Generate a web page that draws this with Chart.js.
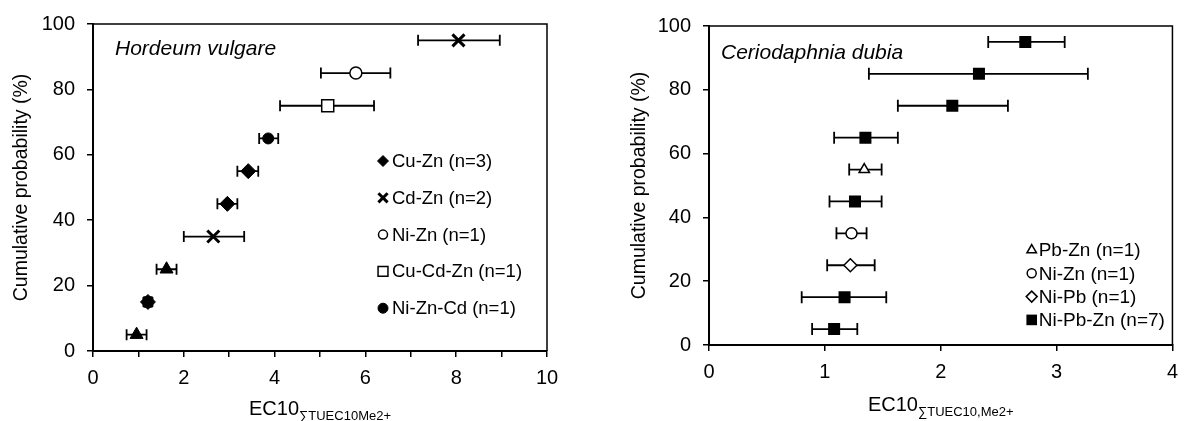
<!DOCTYPE html>
<html>
<head>
<meta charset="utf-8">
<script src="https://cdn.jsdelivr.net/npm/chart.js@4/dist/chart.umd.min.js"></script>
<style>
  html, body { margin: 0; padding: 0; background: #fff; }
  body { position: relative; width: 1187px; height: 421px; overflow: hidden; }
  .box { position: absolute; top: 0; height: 421px; }
  #boxL { left: 0; width: 600px; }
  #boxR { left: 600px; width: 587px; }
</style>
</head>
<body>
<div class="box" id="boxL"><canvas id="hv" width="600" height="421"></canvas></div>
<div class="box" id="boxR"><canvas id="cd" width="587" height="421"></canvas></div>
<script>
// ---- Hordeum vulgare (left panel) ----
const hvYTicks = [0, 20, 40, 60, 80, 100];
const hvXTicks = [0, 2, 4, 6, 8, 10];

const hvCuZnX = [1.21, 2.96, 3.42];
const hvCuZnY = [15, 45, 55];
const hvCuZnLo = [1.15, 2.74, 3.18];
const hvCuZnHi = [1.27, 3.18, 3.64];

const hvCdZnX = [2.65, 8.05];
const hvCdZnY = [35, 95];
const hvCdZnLo = [2.0, 7.16];
const hvCdZnHi = [3.33, 8.96];

const hvNiZnX = [5.79];
const hvNiZnY = [85];
const hvNiZnLo = [5.02];
const hvNiZnHi = [6.55];

const hvCuCdZnX = [5.17];
const hvCuCdZnY = [75];
const hvCuCdZnLo = [4.12];
const hvCuCdZnHi = [6.19];

const hvNiZnCdX = [3.86];
const hvNiZnCdY = [65];
const hvNiZnCdLo = [3.66];
const hvNiZnCdHi = [4.08];

// points with no legend entry (triangles and the filled square under the diamond)
const hvOtherX = [0.96, 1.21, 1.62];
const hvOtherY = [5, 15, 25];
const hvOtherLo = [0.74, 1.15, 1.40];
const hvOtherHi = [1.18, 1.27, 1.84];
const hvOtherStyle = ['triangle', 'rect', 'triangle'];

// ---- Ceriodaphnia dubia (right panel) ----
const cdYTicks = [0, 20, 40, 60, 80, 100];
const cdXTicks = [0, 1, 2, 3, 4];

const cdPbZnX = [1.34];
const cdPbZnY = [55];
const cdPbZnLo = [1.21];
const cdPbZnHi = [1.49];

const cdNiZnX = [1.23];
const cdNiZnY = [35];
const cdNiZnLo = [1.10];
const cdNiZnHi = [1.36];

const cdNiPbX = [1.22];
const cdNiPbY = [25];
const cdNiPbLo = [1.02];
const cdNiPbHi = [1.43];

const cdNiPbZnX = [1.08, 1.17, 1.26, 1.35, 2.10, 2.33, 2.73];
const cdNiPbZnY = [5, 15, 45, 65, 75, 85, 95];
const cdNiPbZnLo = [0.89, 0.80, 1.04, 1.08, 1.63, 1.38, 2.41];
const cdNiPbZnHi = [1.28, 1.53, 1.49, 1.63, 2.58, 3.27, 3.07];

const FONT = '"Liberation Sans", Arial, sans-serif';
Chart.defaults.font.family = FONT;
Chart.defaults.color = '#000';

function pts(xs, ys) {
  return xs.map((x, i) => ({ x, y: ys[i] }));
}

function series(label, xs, ys, lo, hi, style, r, filled, bw, legendR, inLegend = true) {
  return {
    label,
    data: pts(xs, ys),
    errLo: lo,
    errHi: hi,
    showLine: false,
    pointStyle: style,
    pointRadius: r,
    pointHoverRadius: r,
    pointBackgroundColor: filled ? '#000' : '#fff',
    pointBorderColor: '#000',
    pointBorderWidth: bw,
    legendR,
    inLegend,
  };
}

// horizontal error bars, from errLo/errHi through the x scale
const errorBars = {
  id: 'errorBars',
  beforeDatasetsDraw(chart, args, opts) {
    const { ctx } = chart;
    const xs = chart.scales.x;
    const ys = chart.scales.y;
    ctx.save();
    ctx.strokeStyle = '#000';
    ctx.lineWidth = opts.lineWidth;
    chart.data.datasets.forEach((ds) => {
      ds.data.forEach((p, i) => {
        const y = ys.getPixelForValue(p.y);
        const a = xs.getPixelForValue(ds.errLo[i]);
        const b = xs.getPixelForValue(ds.errHi[i]);
        ctx.beginPath();
        ctx.moveTo(a, y);
        ctx.lineTo(b, y);
        ctx.moveTo(a, y - opts.cap);
        ctx.lineTo(a, y + opts.cap);
        ctx.moveTo(b, y - opts.cap);
        ctx.lineTo(b, y + opts.cap);
        ctx.stroke();
      });
    });
    ctx.restore();
  },
};

// frame, species name, legend and subscripted x title
const decor = {
  id: 'decor',
  afterDatasetsDraw(chart, args, o) {
    const { ctx, chartArea: ca } = chart;
    ctx.save();

    ctx.strokeStyle = '#000';
    ctx.lineWidth = 1.5;
    ctx.beginPath();
    ctx.moveTo(ca.left, ca.top);
    ctx.lineTo(ca.right, ca.top);
    ctx.lineTo(ca.right, ca.bottom);
    ctx.stroke();

    ctx.fillStyle = '#000';
    ctx.font = 'italic 21px ' + FONT;
    ctx.textBaseline = 'alphabetic';
    ctx.textAlign = 'left';
    ctx.fillText(o.species, ca.left + o.speciesDx, ca.top + o.speciesDy);

    // legend
    ctx.font = o.legendFont + 'px ' + FONT;
    ctx.textBaseline = 'middle';
    let row = 0;
    chart.data.datasets.forEach((ds) => {
      if (!ds.inLegend) return;
      const x = ca.left + o.legendDx;
      const y = ca.top + o.legendDy + row * o.legendGap;
      ctx.fillStyle = ds.pointBackgroundColor;
      ctx.strokeStyle = '#000';
      ctx.lineWidth = ds.pointBorderWidth;
      Chart.helpers.drawPoint(ctx, {
        pointStyle: ds.pointStyle,
        radius: ds.legendR,
        rotation: 0,
        borderWidth: ds.pointBorderWidth,
      }, x, y);
      ctx.fillStyle = '#000';
      ctx.fillText(ds.label, x + o.legendTextDx, y + 1);
      row++;
    });

    // x axis title with subscript
    const main = 'EC10';
    ctx.font = '20px ' + FONT;
    const w1 = ctx.measureText(main).width;
    ctx.font = '13px ' + FONT;
    const w2 = ctx.measureText(o.sub).width;
    const x0 = (ca.left + ca.right) / 2 - (w1 + w2) / 2;
    const yb = ca.bottom + o.xTitleDy;
    ctx.textBaseline = 'alphabetic';
    ctx.font = '20px ' + FONT;
    ctx.fillText(main, x0, yb);
    ctx.font = '13px ' + FONT;
    ctx.fillText(o.sub, x0 + w1, yb + 5);

    ctx.restore();
  },
};

function axes(xMax, xStep, xLabel, yWidth, xHeight, yTitlePad) {
  const grid = {
    display: true,
    drawOnChartArea: false,
    drawTicks: true,
    tickLength: 6,
    color: '#000',
    lineWidth: 1.5,
  };
  return {
    x: {
      type: 'linear',
      min: 0,
      max: xMax,
      afterFit: (s) => { s.height = xHeight; },
      border: { color: '#000', width: 2 },
      grid,
      ticks: {
        stepSize: xStep,
        padding: 9,
        maxRotation: 0,
        autoSkip: false,
        font: { size: 20 },
        callback: xLabel,
      },
    },
    y: {
      type: 'linear',
      min: 0,
      max: 100,
      afterFit: (s) => { s.width = yWidth; },
      border: { color: '#000', width: 2 },
      grid,
      ticks: { stepSize: 20, padding: 12, font: { size: 20 } },
      title: {
        display: true,
        text: 'Cumulative probability (%)',
        font: { size: 19.5 },
        padding: { top: yTitlePad, bottom: 0 },
      },
    },
  };
}

new Chart(document.getElementById('hv'), {
  type: 'scatter',
  data: {
    datasets: [
      series('Cu-Zn (n=3)', hvCuZnX, hvCuZnY, hvCuZnLo, hvCuZnHi, 'rectRot', 7.5, true, 1, 5.5),
      series('Cd-Zn (n=2)', hvCdZnX, hvCdZnY, hvCdZnLo, hvCdZnHi, 'crossRot', 8.5, false, 3, 6.5),
      series('Ni-Zn (n=1)', hvNiZnX, hvNiZnY, hvNiZnLo, hvNiZnHi, 'circle', 6, false, 1.5, 4.5),
      series('Cu-Cd-Zn (n=1)', hvCuCdZnX, hvCuCdZnY, hvCuCdZnLo, hvCuCdZnHi, 'rect', 8.5, false, 1.5, 7),
      series('Ni-Zn-Cd (n=1)', hvNiZnCdX, hvNiZnCdY, hvNiZnCdLo, hvNiZnCdHi, 'circle', 5.5, true, 1, 5),
      Object.assign(
        series('', hvOtherX, hvOtherY, hvOtherLo, hvOtherHi, 'triangle', 7.5, true, 1, 0, false),
        { pointStyle: hvOtherStyle, pointRadius: [7.5, 7, 7.5] }
      ),
    ],
  },
  options: {
    responsive: false,
    animation: false,
    layout: { padding: { left: 0, top: 23, right: 53, bottom: 0 } },
    scales: axes(10, 1, (v) => (hvXTicks.includes(v) ? v : ''), 93, 70, 10),
    plugins: {
      legend: { display: false },
      tooltip: { enabled: false },
      errorBars: { lineWidth: 1.8, cap: 5.5 },
      decor: {
        species: 'Hordeum vulgare',
        speciesDx: 22,
        speciesDy: 31,
        legendFont: 18.5,
        legendDx: 290,
        legendDy: 137,
        legendGap: 36.8,
        legendTextDx: 9,
        sub: '\u2211TUEC10Me2+',
        xTitleDy: 64,
      },
    },
  },
  plugins: [errorBars, decor],
});

new Chart(document.getElementById('cd'), {
  type: 'scatter',
  data: {
    datasets: [
      series('Pb-Zn (n=1)', cdPbZnX, cdPbZnY, cdPbZnLo, cdPbZnHi, 'triangle', 6, false, 1.5, 5.5),
      series('Ni-Zn (n=1)', cdNiZnX, cdNiZnY, cdNiZnLo, cdNiZnHi, 'circle', 5.5, false, 1.5, 4.5),
      series('Ni-Pb (n=1)', cdNiPbX, cdNiPbY, cdNiPbLo, cdNiPbHi, 'rectRot', 6.5, false, 1.5, 5.5),
      series('Ni-Pb-Zn (n=7)', cdNiPbZnX, cdNiPbZnY, cdNiPbZnLo, cdNiPbZnHi, 'rect', 8.5, true, 0, 7.5),
    ],
  },
  options: {
    responsive: false,
    animation: false,
    layout: { padding: { left: 0, top: 26, right: 6, bottom: 0 } },
    scales: axes(4, 1, (v) => (cdXTicks.includes(v) ? v : ''), 109, 76, 28),
    plugins: {
      legend: { display: false },
      tooltip: { enabled: false },
      errorBars: { lineWidth: 1.8, cap: 6 },
      decor: {
        species: 'Ceriodaphnia dubia',
        speciesDx: 12,
        speciesDy: 32.5,
        legendFont: 19,
        legendDx: 322.7,
        legendDy: 224,
        legendGap: 23.3,
        legendTextDx: 7,
        sub: '\u2211TUEC10,Me2+',
        xTitleDy: 66,
      },
    },
  },
  plugins: [errorBars, decor],
});
</script>
</body>
</html>
